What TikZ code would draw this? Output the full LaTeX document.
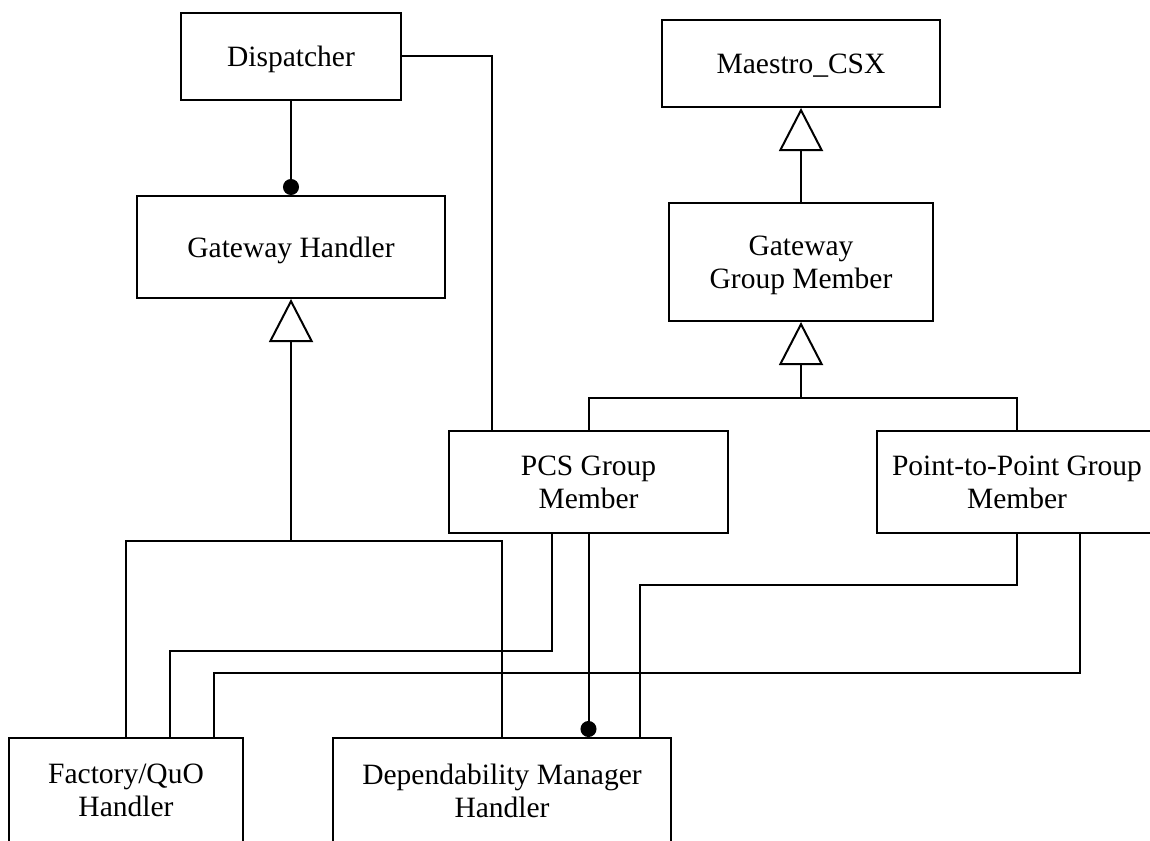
\documentclass[tikz,border=0pt]{standalone}
\usepackage{fontspec}
\setmainfont{Liberation Serif}
\usetikzlibrary{arrows.meta,calc}
\begin{document}
\begin{tikzpicture}[x=1pt,y=-1pt,line width=2pt,line join=miter,
  box/.style={draw,rectangle,inner sep=0pt,align=center,
    font=\fontsize{29.5}{33}\selectfont,text depth=0pt},
  gen/.style={-{Triangle[open,length=43pt,width=44pt]}},
  dotend/.style={-{Circle[length=16pt]}}]
  % canvas
  \fill[white] (0,0) rectangle (1150,840);
  \useasboundingbox (0,0) rectangle (1150,840);

  % classes
  \node[box,minimum width=220pt,minimum height=87pt]  (disp) at (291,56.5)  {Dispatcher};
  \node[box,minimum width=308pt,minimum height=102pt] (gwh)  at (291,247)   {Gateway Handler};
  \node[box,minimum width=278pt,minimum height=87pt]  (maes) at (801,63.5)  {Maestro\_CSX};
  \node[box,minimum width=264pt,minimum height=118pt] (ggm)  at (801,262)   {Gateway\\Group Member};
  \node[box,minimum width=279pt,minimum height=102pt] (pcs)  at (588.5,482) {PCS Group\\Member};
  \node[box,minimum width=280pt,minimum height=102pt] (p2p)  at (1017,482)  {Point-to-Point Group\\Member};
  \node[box,minimum width=234pt,minimum height=105pt] (fact) at (126,790.5) {Factory/QuO\\Handler};
  \node[box,minimum width=338pt,minimum height=105pt] (dep)  at (502,790.5) {Dependability Manager\\Handler};

  % junctions of the generalisation trees
  \coordinate (gbus) at (291,541);
  \coordinate (sbus) at (801,398);

  % generalisation
  \draw[gen] (ggm.north) -- (maes.south);
  \draw[gen] (sbus) -- (ggm.south);
  \draw (pcs.north) |- (sbus) -| (p2p.north);
  \draw[gen] (gbus) -- (gwh.south);
  \draw (fact.north) |- (gbus) -| (dep.north);

  % associations
  \draw[dotend] (disp.south) -- (gwh.north);
  \draw (disp.east) -| (492,0 |- pcs.north);
  \draw[dotend] (pcs.south) -- (pcs.south |- dep.north);
  \draw ([xshift=-36.5pt]pcs.south) -- ++(0,117) -| ([xshift=44pt]fact.north);
  \draw (p2p.south) -- ++(0,51) -| ([xshift=138pt]dep.north);
  \draw ([xshift=63pt]p2p.south) -- ++(0,139) -| ([xshift=88pt]fact.north);
\end{tikzpicture}
\end{document}
